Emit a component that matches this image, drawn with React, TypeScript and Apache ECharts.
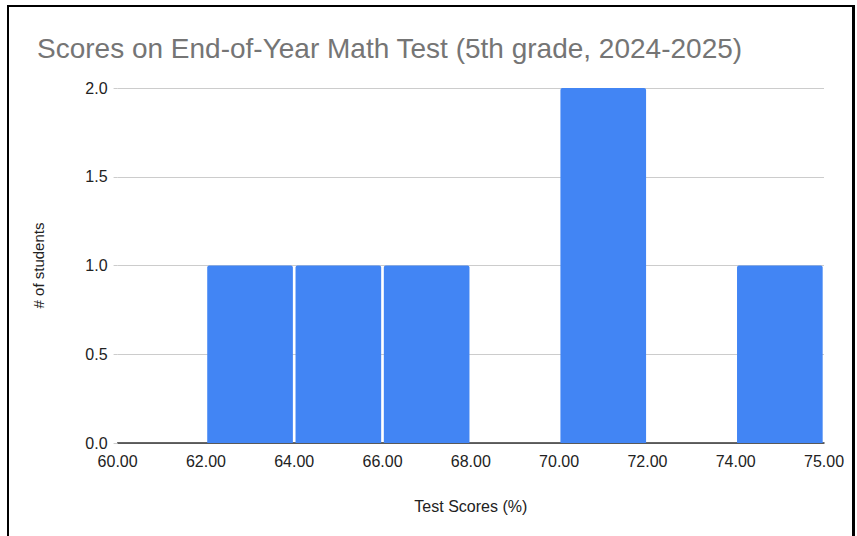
import React, { useEffect, useRef } from "react";
import * as echarts from "echarts";

const bins = ["60-62", "62-64", "64-66", "66-68", "68-70", "70-72", "72-74", "74-75"];
const counts = [0, 1, 1, 1, 0, 2, 0, 1];
const tickLabels = ["60.00", "62.00", "64.00", "66.00", "68.00", "70.00", "72.00", "74.00", "75.00"];
const titleText = "Scores on End-of-Year Math Test (5th grade, 2024-2025)";

export default function App() {
  const ref = useRef<HTMLDivElement>(null);
  useEffect(() => {
    if (!ref.current) return;
    const chart = echarts.init(ref.current, null, { renderer: "svg" });
    const font = "Arial, 'Liberation Sans', sans-serif";
    chart.setOption({
      animation: false,
      backgroundColor: "#ffffff",
      title: {
        text: titleText,
        left: 32,
        top: 29,
        textStyle: { fontFamily: font, fontSize: 28, fontWeight: "normal", color: "#757575" },
      },
      grid: { left: 117.6, right: 33, top: 88, bottom: 93, containLabel: false },
      xAxis: [
        {
          type: "category",
          data: bins,
          boundaryGap: true,
          axisLine: { show: true, lineStyle: { color: "#333333", width: 1.5 } },
          axisTick: { show: false },
          axisLabel: { show: false },
          splitLine: { show: false },
        },
        {
          type: "value",
          position: "bottom",
          min: 0,
          max: bins.length,
          interval: 1,
          axisLine: { show: false },
          axisTick: { show: false },
          splitLine: { show: false },
          axisLabel: {
            show: true,
            margin: 10,
            fontFamily: font,
            fontSize: 16,
            color: "#222222",
            formatter: (v: number) => tickLabels[Math.round(v)] ?? "",
          },
          name: "Test Scores (%)",
          nameLocation: "middle",
          nameGap: 55,
          nameTextStyle: { fontFamily: font, fontSize: 16, color: "#222222" },
        },
      ],
      yAxis: {
        type: "value",
        min: 0,
        max: 2,
        interval: 0.5,
        axisLine: { show: false },
        axisTick: { show: true, length: 4, lineStyle: { color: "#cccccc" } },
        splitLine: { show: true, lineStyle: { color: "#cccccc", width: 1 } },
        axisLabel: {
          fontFamily: font,
          fontSize: 16,
          color: "#222222",
          margin: 10,
          formatter: (v: number) => v.toFixed(1),
        },
        name: "# of students",
        nameLocation: "middle",
        nameGap: 72,
        nameRotate: 90,
        nameTextStyle: { fontFamily: font, fontSize: 15, color: "#222222" },
      },
      series: [
        {
          type: "bar",
          xAxisIndex: 0,
          data: counts,
          barCategoryGap: "3%",
          itemStyle: { color: "#4285F4", borderRadius: [2, 2, 0, 0] },
        },
      ],
    });
    return () => chart.dispose();
  }, []);
  return (
    <div style={{ position: "fixed", left: 0, top: 0, width: 857, height: 536, background: "#fff" }}>
      <div ref={ref} style={{ position: "absolute", left: 0, top: 0, width: 857, height: 536 }} />
      <div
        style={{
          position: "absolute",
          left: 7,
          top: 5,
          width: 843,
          height: 600,
          borderLeft: "2px solid #000",
          borderTop: "2px solid #000",
          borderRight: "3px solid #000",
          pointerEvents: "none",
        }}
      />
    </div>
  );
}
